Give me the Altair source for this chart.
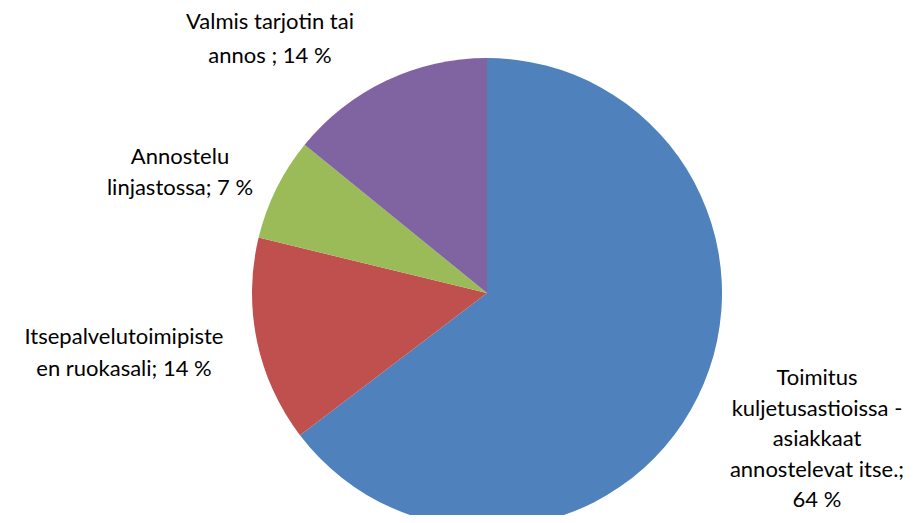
import altair as alt
import pandas as pd

categories = [
    "Toimitus kuljetusastioissa - asiakkaat annostelevat itse.",
    "Itsepalvelutoimipisteen ruokasali",
    "Annostelu linjastossa",
    "Valmis tarjotin tai annos",
]
values = [64, 14, 7, 14]
label_lines = [
    ["Toimitus", "kuljetusastioissa -", "asiakkaat", "annostelevat itse.;", "64 %"],
    ["Itsepalvelutoimipiste", "en ruokasali; 14 %"],
    ["Annostelu", "linjastossa; 7 %"],
    ["Valmis tarjotin tai", "annos ; 14 %"],
]

# layout / style (not data)
colors = ["#4F81BD", "#C0504D", "#9BBB59", "#8064A2"]
label_anchor = [(809, 370), (116, 329), (172, 149), (262, 14)]
line_heights = [30.5, 32, 31, 34]
CX, CY, R = 479, 285, 235
FONT = "Lato"

df = pd.DataFrame({"category": categories, "value": values, "order": list(range(len(values)))})

pie = alt.Chart(df).mark_arc(radius=R, stroke=None).encode(
    theta=alt.Theta("value:Q", stack=True),
    order=alt.Order("order:Q"),
    color=alt.Color("category:N", scale=alt.Scale(domain=categories, range=colors), legend=None),
    x=alt.value(CX),
    y=alt.value(CY),
)

layers = [pie]
for lines, (lx, ly), lh in zip(label_lines, label_anchor, line_heights):
    layers.append(
        alt.Chart(df.head(1)).mark_text(
            font=FONT, fontSize=22, color="#000000", align="center", baseline="middle", lineHeight=lh
        ).encode(x=alt.value(lx), y=alt.value(ly), text=alt.value(lines))
    )

chart = alt.layer(*layers).properties(
    width=907, height=507, padding=0, autosize=alt.AutoSizeParams(type="none")
).configure_view(stroke=None)

chart.save("out.html", embed_options={"renderer": "svg", "actions": False})
